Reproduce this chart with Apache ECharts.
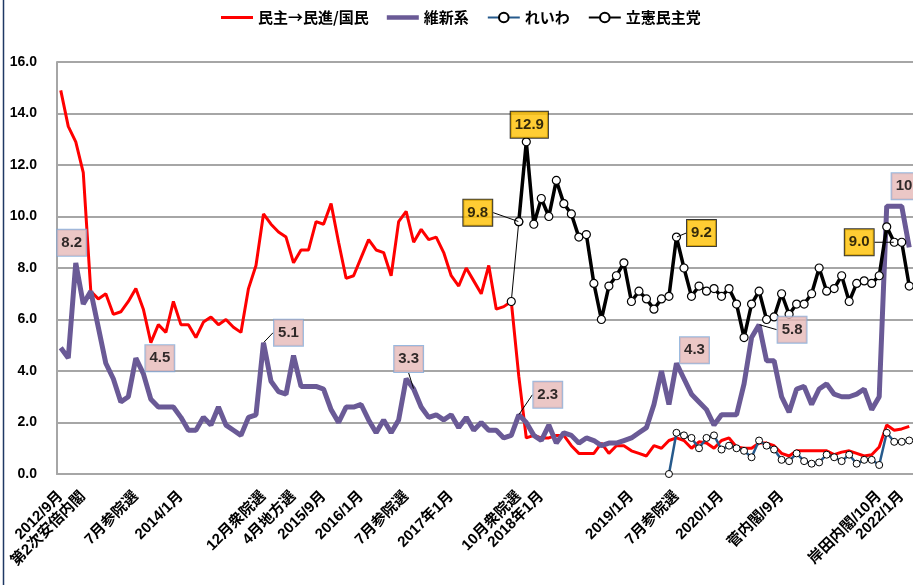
<!DOCTYPE html>
<html><head><meta charset="utf-8">
<script src="https://cdn.jsdelivr.net/npm/echarts@6/dist/echarts.min.js"></script>
<style>html,body{margin:0;padding:0;background:#fff}#c{width:913px;height:585px}</style>
</head><body><div id="c"></div>
<script>
// ---- data ----
const months = ['2012/9','2012/10','2012/11','2012/12',
'2013/1','2013/2','2013/3','2013/4','2013/5','2013/6','2013/7','2013/8','2013/9','2013/10','2013/11','2013/12',
'2014/1','2014/2','2014/3','2014/4','2014/5','2014/6','2014/7','2014/8','2014/9','2014/10','2014/11','2014/12',
'2015/1','2015/2','2015/3','2015/4','2015/5','2015/6','2015/7','2015/8','2015/9','2015/10','2015/11','2015/12',
'2016/1','2016/2','2016/3','2016/4','2016/5','2016/6','2016/7','2016/8','2016/9','2016/10','2016/11','2016/12',
'2017/1','2017/2','2017/3','2017/4','2017/5','2017/6','2017/7','2017/8','2017/9','2017/10','2017/11','2017/12',
'2018/1','2018/2','2018/3','2018/4','2018/5','2018/6','2018/7','2018/8','2018/9','2018/10','2018/11','2018/12',
'2019/1','2019/2','2019/3','2019/4','2019/5','2019/6','2019/7','2019/8','2019/9','2019/10','2019/11','2019/12',
'2020/1','2020/2','2020/3','2020/4','2020/5','2020/6','2020/7','2020/8','2020/9','2020/10','2020/11','2020/12',
'2021/1','2021/2','2021/3','2021/4','2021/5','2021/6','2021/7','2021/8','2021/9','2021/10','2021/11','2021/12',
'2022/1','2022/2'];

const minshu = [14.9,13.5,12.9,11.7,7.1,6.8,7.0,6.2,6.3,6.7,
7.2,6.4,5.1,5.8,5.5,6.7,5.8,5.8,5.3,5.9,
6.1,5.8,6.0,5.7,5.5,7.2,8.1,10.1,9.7,9.4,
9.2,8.2,8.7,8.7,9.8,9.7,10.5,9.0,7.6,7.7,
8.4,9.1,8.7,8.6,7.7,9.8,10.2,9.0,9.5,9.1,
9.2,8.6,7.7,7.3,8.0,7.5,7.0,8.1,6.4,6.5,
6.7,3.8,1.4,1.5,1.4,1.4,1.5,1.5,1.1,0.8,
0.8,0.8,1.2,0.8,1.1,1.1,0.9,0.8,0.7,1.1,
1.0,1.3,1.4,1.3,1.0,1.25,1.2,1.0,1.3,1.4,
1.05,1.0,1.0,1.2,1.2,1.1,0.8,0.7,0.9,0.9,
0.9,0.9,0.9,0.75,0.85,0.9,0.8,0.7,0.75,1.05,
1.9,1.7,1.75,1.85];

const ishin = [4.9,4.5,8.2,6.6,7.1,5.7,4.3,3.7,2.8,3.0,
4.5,3.9,2.9,2.6,2.6,2.6,2.2,1.7,1.7,2.2,
1.9,2.6,1.9,1.7,1.5,2.2,2.3,5.1,3.6,3.2,
3.1,4.6,3.4,3.4,3.4,3.3,2.5,2.0,2.6,2.6,
2.7,2.1,1.6,2.1,1.6,2.1,3.7,3.3,2.6,2.2,
2.3,2.1,2.3,1.8,2.2,1.7,2.0,1.7,1.7,1.4,
1.5,2.3,2.0,1.5,1.3,1.9,1.2,1.6,1.5,1.2,
1.4,1.3,1.1,1.2,1.2,1.3,1.4,1.6,1.8,2.7,
4.0,2.7,4.3,3.7,3.1,2.8,2.5,1.9,2.3,2.3,
2.3,3.5,5.3,5.8,4.4,4.4,3.0,2.4,3.3,3.4,
2.7,3.3,3.5,3.1,3.0,3.0,3.1,3.3,2.5,3.0,
10.4,10.4,10.4,8.8];

// れいわ: values from 2019/6 (index 81)
const reiwaStart = 81;
const reiwa = [0.0,1.6,1.5,1.4,1.0,1.4,1.5,0.95,1.1,1.0,
0.9,0.65,1.3,1.1,0.95,0.55,0.5,0.8,0.5,0.4,
0.45,0.75,0.65,0.5,0.75,0.4,0.55,0.55,0.35,1.6,
1.25,1.25,1.3];

// 立憲民主党: values from 2017/10 (index 61)
const rikkenStart = 61;
const rikken = [9.8,12.9,9.7,10.7,10.0,11.4,10.5,10.1,9.2,9.3,
7.4,6.0,7.3,7.7,8.2,6.7,7.1,6.8,6.4,6.8,
6.9,9.2,8.0,6.9,7.3,7.1,7.2,6.9,7.2,6.6,
5.3,6.6,7.1,6.0,6.1,7.0,6.2,6.6,6.6,7.0,
8.0,7.1,7.2,7.7,6.7,7.4,7.5,7.4,7.7,9.6,
9.0,9.0,7.3];

// thin connector 民進 -> 立憲 (index 60..61)
const linkStart = 60;
const rikkenLink = [6.7,9.8];

const tickIdx = [0,3,10,16,27,31,35,40,46,52,61,64,76,82,88,96,109,112];
const tickText = ['2012/9月','第2次安倍内閣','7月参院選','2014/1月','12月衆院選','4月地方選','2015/9月','2016/1月','7月参院選','2017年1月','10月衆院選','2018年1月','2019/1月','7月参院選','2020/1月','菅内閣/9月','岸田内閣/10月','2022/1月'];

const ishinLabelIdx = [2,10,27,47,61,82,93,111];
const rikkenLabelIdx = [61,62,82,111];

// ---- layout / style ----
const ishinLabelOffset = [[-4,-20],[24,0],[25,-10],[-5,-30],[29,-20],[18,-13],[33,5],[16,-20]];
const ishinLeader = [false,false,true,true,true,false,true,false];
const rikkenLabelOffset = [[-41,-9],[3,-17],[25,-4],[-35,0]];
const rikkenLeader = [true,false,true,true];

const FONT = '"Liberation Sans","Noto Sans CJK JP",sans-serif';
const FONT_CJK = '"Noto Sans CJK JP","Liberation Sans",sans-serif';

function fromStart(arr, start) {
  return months.map((m, i) => (i >= start && i - start < arr.length) ? arr[i - start] : '-');
}
const tickMap = {};
tickIdx.forEach((i, k) => { tickMap[i] = tickText[k]; });

function annSeries(name, src, idxs, offsets, leaders, bg, border) {
  return {
    name: name, type: 'scatter', z: 20, silent: true,
    symbol: 'circle', symbolSize: 1,
    itemStyle: { color: 'rgba(0,0,0,0)' },
    data: idxs.map((i, k) => ({ value: [i, src[i]], labelLine: { show: leaders[k] } })),
    label: {
      show: true, position: 'inside',
      formatter: p => Number(p.value[1]).toFixed(1),
      color: '#000', fontWeight: 'bold', fontSize: 15, fontFamily: FONT,
      backgroundColor: bg, borderColor: border, borderWidth: 1,
      padding: [5, 4, 4, 4], lineHeight: 17
    },
    labelLine: { show: true, lineStyle: { color: '#000', width: 1 } },
    labelLayout: p => ({ dx: offsets[p.dataIndex][0], dy: offsets[p.dataIndex][1] })
  };
}

const chart = echarts.init(document.getElementById('c'), null, { renderer: 'canvas' });
chart.setOption({
  animation: false,
  backgroundColor: '#fff',
  textStyle: { fontFamily: FONT },
  legend: {
    data: [
      { name: '民主→民進/国民', icon: 'path://M0,0h32v3h-32z' },
      { name: '維新系', icon: 'path://M0,0h32v4.5h-32z' },
      { name: 'れいわ' },
      { name: '立憲民主党' }
    ],
    left: 216, top: 5, itemWidth: 32, itemHeight: 12, itemGap: 18,
    textStyle: { fontFamily: FONT_CJK, fontWeight: 'bold', fontSize: 15, color: '#000' }
  },
  grid: { left: 57, top: 62, bottom: 111, right: -2, containLabel: false },
  xAxis: {
    type: 'category', data: months, boundaryGap: true,
    axisLine: { show: true, lineStyle: { color: '#A6A6A6', width: 2 } },
    axisTick: { show: false },
    axisLabel: {
      interval: 0, rotate: 45, margin: 20,
      formatter: (v, i) => tickMap[i] || '',
      color: '#000', fontWeight: 'bold', fontSize: 15, fontFamily: FONT
    },
    splitLine: { show: false }
  },
  yAxis: {
    type: 'value', min: 0, max: 16, interval: 2,
    axisLine: { show: true, lineStyle: { color: '#A6A6A6', width: 2 } },
    axisTick: { show: false },
    axisLabel: {
      formatter: v => v.toFixed(1), margin: 20,
      color: '#000', fontWeight: 'bold', fontSize: 14, fontFamily: FONT
    },
    splitLine: { show: true, lineStyle: { color: '#A6A6A6', width: 2 } }
  },
  graphic: [{
    type: 'line', shape: { x1: 3.5, y1: 0, x2: 3.5, y2: 585 },
    style: { stroke: '#1F3864', lineWidth: 1.5 }, silent: true
  }],
  series: [
    { name: '民主→民進/国民', type: 'line', z: 2, data: minshu, symbol: 'none',
      lineStyle: { color: '#FF0000', width: 3 }, itemStyle: { color: '#FF0000' } },
    { name: '維新系', type: 'line', z: 3, data: ishin, symbol: 'none',
      lineStyle: { color: '#6A5A96', width: 5 }, itemStyle: { color: '#6A5A96' } },
    { name: 'れいわ', type: 'line', z: 4, data: fromStart(reiwa, reiwaStart),
      symbol: 'circle', symbolSize: 7, showSymbol: true,
      lineStyle: { color: '#265A8C', width: 2.5 },
      itemStyle: { color: '#fff', borderColor: '#000', borderWidth: 1 } },
    { name: '立憲民主党', type: 'line', z: 5, data: fromStart(rikken, rikkenStart),
      symbol: 'circle', symbolSize: 8, showSymbol: true,
      lineStyle: { color: '#000', width: 3.5 },
      itemStyle: { color: '#fff', borderColor: '#000', borderWidth: 1.2 } },
    { name: 'link', type: 'line', z: 5, data: fromStart(rikkenLink, linkStart),
      symbol: 'circle', symbolSize: 8, showSymbol: true,
      lineStyle: { color: '#000', width: 1 },
      itemStyle: { color: '#fff', borderColor: '#000', borderWidth: 1.2 } },
    annSeries('ann-ishin', ishin, ishinLabelIdx, ishinLabelOffset, ishinLeader, '#E6B9B8', '#7EA6D6'),
    annSeries('ann-rikken', fromStart(rikken, rikkenStart), rikkenLabelIdx, rikkenLabelOffset, rikkenLeader, '#FFC000', '#000')
  ]
});
</script></body></html>
